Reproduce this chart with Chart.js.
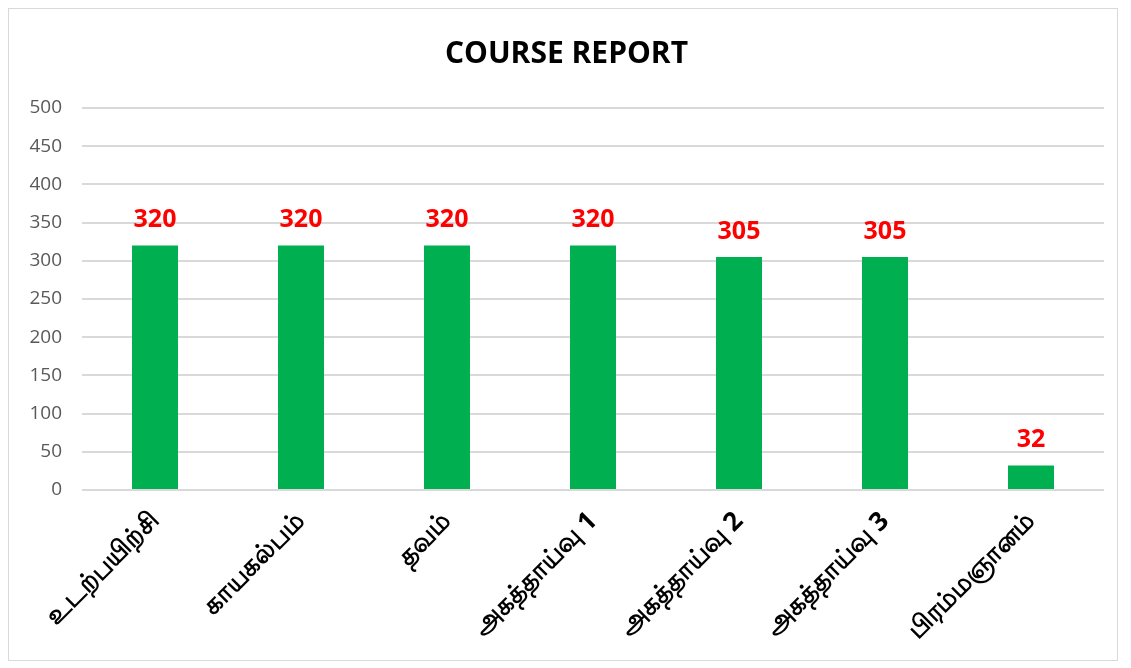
<!DOCTYPE html>
<html>
<head>
<meta charset="utf-8">
<script src="https://cdn.jsdelivr.net/npm/chart.js@4.4.1/dist/chart.umd.min.js"></script>
<style>
  body { margin: 0; background: #fff; }
  #box { position: absolute; left: 8px; top: 8px; width: 1108px; height: 651px; border: 1px solid #d9d9d9; }
</style>
</head>
<body>
<div id="box"><canvas id="courseChart"></canvas></div>
<script>
const categories = ['உடற்பயிற்சி', 'காயகல்பம்', 'தவம்', 'அகத்தாய்வு 1', 'அகத்தாய்வு 2', 'அகத்தாய்வு 3', 'பிரம்மஞானம்'];
const scores = [320, 320, 320, 320, 305, 305, 32];
const yTicks = [0, 50, 100, 150, 200, 250, 300, 350, 400, 450, 500];

// labels above bars, drawn by hand (no datalabels plugin available)
const valueLabels = {
    id: 'valueLabels',
    afterDatasetsDraw(chart) {
        const ctx = chart.ctx;
        const meta = chart.getDatasetMeta(0);
        ctx.save();
        ctx.fillStyle = '#ff0000';
        ctx.font = 'bold 25px "Open Sans", sans-serif';
        ctx.textAlign = 'center';
        ctx.textBaseline = 'bottom';
        meta.data.forEach(function(bar, i) {
            ctx.fillText(scores[i], bar.x, bar.y - 13);
        });
        ctx.restore();
    }
};

const ctx = document.getElementById('courseChart').getContext('2d');
const courseChart = new Chart(ctx, {
    type: 'bar',
    data: {
        labels: categories,
        datasets: [{
            label: 'Course',
            data: scores,
            backgroundColor: '#00b050',
            categoryPercentage: 1,
            barPercentage: 0.315
        }]
    },
    options: {
        responsive: true,
        maintainAspectRatio: false,
        animation: false,
        layout: { padding: { left: 20, right: 13, bottom: 20 } },
        plugins: {
            legend: { display: false },
            tooltip: { enabled: false },
            title: {
                display: true,
                text: 'COURSE REPORT',
                color: '#000',
                font: { size: 30, weight: 'bold', family: '"Open Sans", sans-serif' },
                padding: { top: 27, bottom: 36 }
            }
        },
        scales: {
            y: {
                min: 0,
                max: 500,
                afterBuildTicks: function(axis) { axis.ticks = yTicks.map(v => ({ value: v })); },
                afterFit: function(axis) { axis.width = 53; },
                border: { display: false },
                grid: { color: '#d9d9d9', lineWidth: 2, drawTicks: false },
                ticks: { color: '#595959', padding: 20, font: { size: 19, family: '"Open Sans", sans-serif' } }
            },
            x: {
                afterFit: function(axis) { axis.height = 150; },
                border: { display: false },
                grid: { display: false },
                ticks: {
                    color: '#000',
                    minRotation: 45,
                    maxRotation: 45,
                    padding: 8,
                    font: { size: 26, weight: 'bold', family: '"Noto Sans", sans-serif' }
                }
            }
        }
    },
    plugins: [valueLabels]
});
</script>
</body>
</html>
